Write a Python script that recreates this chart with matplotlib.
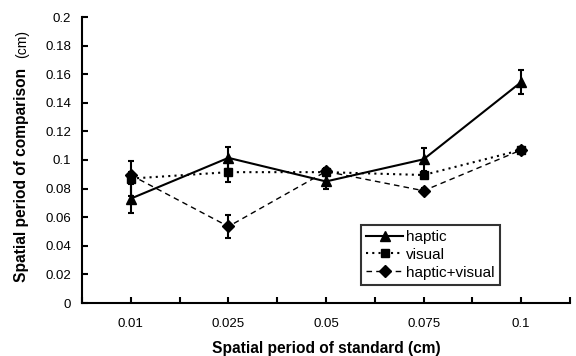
import numpy as np
from matplotlib import pyplot as plt
from matplotlib.lines import Line2D

plt.rcParams['font.family'] = ['Liberation Sans', 'DejaVu Sans']

standards = ["0.01", "0.025", "0.05", "0.075", "0.1"]
haptic = [0.073, 0.1015, 0.085, 0.1005, 0.1545]
hapticErr = [0.010, 0.0075, 0.005, 0.008, 0.0085]
visual = [0.087, 0.0915, 0.0915, 0.0895, 0.107]
visualErr = [0.012, 0.007, 0.003, 0.002, 0.002]
both = [0.0895, 0.0535, 0.092, 0.0785, 0.107]
bothErr = [0.002, 0.008, 0.002, 0.002, 0.002]

x = np.arange(len(standards))

fig = plt.figure(figsize=(5.76, 3.56), dpi=100)
ax = fig.add_axes([82/576, 1-303/356, (570-82)/576, (303-17)/356])

# line styles for the three series
styles = [
    dict(ls="-", lw=1.5, marker="^", ms=7),
    dict(ls=(0, (1, 2)), lw=1.5, marker="s", ms=6),
    dict(ls=(0, (4, 3)), lw=1, marker="D", ms=6),
]
names = ["haptic", "visual", "haptic+visual"]
series = [(haptic, hapticErr), (visual, visualErr), (both, bothErr)]

for (vals, errs), st in zip(series, styles):
    ax.errorbar(x, vals, yerr=errs, color="black", capsize=2.5, elinewidth=1.5,
                capthick=1.5, **st)

ax.set_xlim(-0.5, 4.5)
ax.set_ylim(0, 0.2)
ax.set_yticks(np.arange(0, 0.201, 0.02))
ax.set_yticklabels(["0", "0.02", "0.04", "0.06", "0.08", "0.1", "0.12", "0.14", "0.16", "0.18", "0.2"])
ticks = np.arange(-0.5, 4.51, 0.5)
ax.set_xticks(ticks)
ax.set_xticklabels([standards[int(t)] if t == int(t) else "" for t in ticks])
ax.tick_params(direction="in", length=4, width=1.5, labelsize=9.5)
ax.tick_params(axis="x", pad=11)
ax.tick_params(axis="y", pad=8)

for s in ["top", "right"]:
    ax.spines[s].set_visible(False)
for s in ["left", "bottom"]:
    ax.spines[s].set_linewidth(1.5)

fig.text(326/576, 1-348/356, "Spatial period of standard (cm)", ha="center", va="center",
         fontsize=11.2, fontweight="bold")
fig.text(22/576, 1-68/356, "Spatial period of comparison", rotation=90, ha="center", va="top",
         fontsize=11.2, fontweight="bold")
fig.text(22/576, 1-58/356, "(cm)", rotation=90, ha="center", va="bottom", fontsize=10)

handles = [Line2D([], [], color="black", **st) for st in styles]
leg = ax.legend(handles, names, loc="lower left", bbox_to_anchor=((361-82)/488, (303-285)/286),
                frameon=True, fancybox=False, fontsize=11, handlelength=2.4,
                borderpad=0.35, labelspacing=0.25, handletextpad=0.2, borderaxespad=0)
leg.get_frame().set_edgecolor("black")
leg.get_frame().set_linewidth(1.5)

plt.savefig("out.png", dpi=100)
